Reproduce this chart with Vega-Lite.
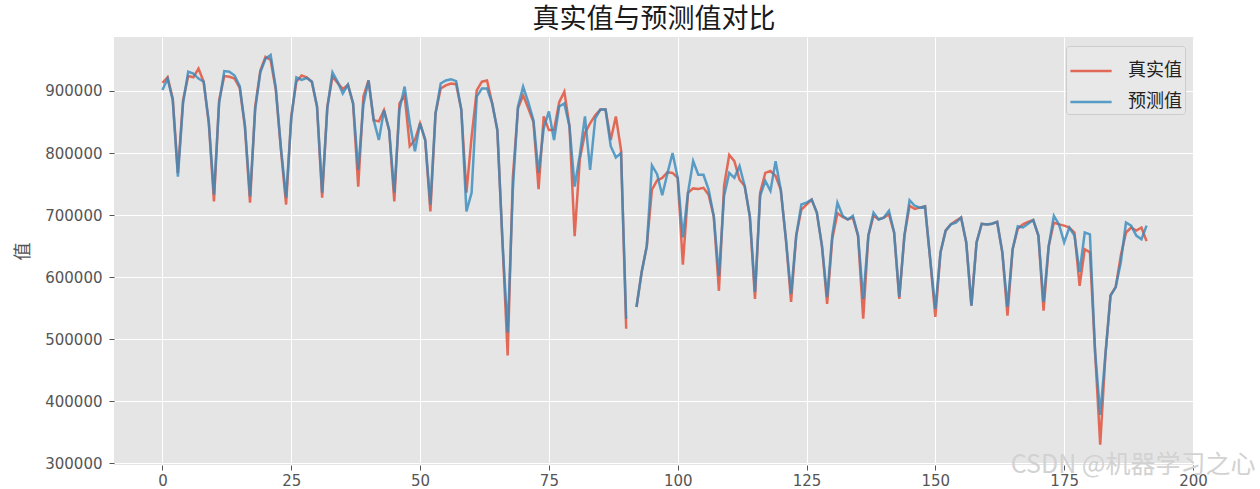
{
  "$schema": "https://vega.github.io/schema/vega-lite/v6.json",
  "width": 1080,
  "height": 428,
  "autosize": "none",
  "padding": {"left": 114, "top": 37, "right": 66, "bottom": 24},
  "background": "white",
  "title": {"text": "真实值与预测值对比", "font": "Noto Sans CJK SC", "fontSize": 27, "fontWeight": "normal", "color": "#1a1a1a", "offset": 3, "anchor": "middle"},
  "config": {
    "view": {"fill": "#E5E5E5", "stroke": null},
    "axis": {"grid": true, "gridColor": "#FFFFFF", "gridWidth": 1, "domain": false, "tickColor": "#555555", "tickSize": 5, "labelColor": "#555555", "labelFont": "DejaVu Sans", "labelFontSize": 15}
  },
  "data": {"values": [
    {"i":0,"r":913000,"p":901600},{"i":1,"r":922000,"p":920000},{"i":2,"r":888000,"p":885000},{"i":3,"r":768000,"p":762000},{"i":4,"r":885000,"p":880000},
    {"i":5,"r":924000,"p":931000},{"i":6,"r":922000,"p":928000},{"i":7,"r":936000,"p":920000},{"i":8,"r":915000,"p":915000},{"i":9,"r":848000,"p":850000},
    {"i":10,"r":722000,"p":733000},{"i":11,"r":885000,"p":880000},{"i":12,"r":924000,"p":932000},{"i":13,"r":923000,"p":931000},{"i":14,"r":920000,"p":925000},
    {"i":15,"r":905000,"p":908000},{"i":16,"r":843000,"p":845000},{"i":17,"r":720000,"p":730000},{"i":18,"r":875000,"p":870000},{"i":19,"r":933000,"p":930000},
    {"i":20,"r":955000,"p":952000},{"i":21,"r":950000,"p":958000},{"i":22,"r":902000,"p":905000},{"i":23,"r":805000,"p":808000},{"i":24,"r":717000,"p":728000},
    {"i":25,"r":859000,"p":855000},{"i":26,"r":915000,"p":922000},{"i":27,"r":925000,"p":918000},{"i":28,"r":922000,"p":921000},{"i":29,"r":915000,"p":915000},
    {"i":30,"r":875000,"p":875000},{"i":31,"r":728000,"p":736000},{"i":32,"r":875000,"p":872000},{"i":33,"r":923000,"p":930000},{"i":34,"r":913000,"p":915000},
    {"i":35,"r":903000,"p":896000},{"i":36,"r":910000,"p":910000},{"i":37,"r":880000,"p":880000},{"i":38,"r":746000,"p":773000},{"i":39,"r":891000,"p":878000},
    {"i":40,"r":917000,"p":917000},{"i":41,"r":853000,"p":853000},{"i":42,"r":851000,"p":821000},{"i":43,"r":869000,"p":869000},{"i":44,"r":837000,"p":837000},
    {"i":45,"r":722000,"p":736000},{"i":46,"r":880000,"p":870000},{"i":47,"r":893000,"p":907000},{"i":48,"r":811000,"p":848000},{"i":49,"r":821000,"p":803000},
    {"i":50,"r":848000,"p":848000},{"i":51,"r":821000,"p":821000},{"i":52,"r":706000,"p":717000},{"i":53,"r":864000,"p":864000},{"i":54,"r":904000,"p":912000},
    {"i":55,"r":909000,"p":917000},{"i":56,"r":912000,"p":919000},{"i":57,"r":911000,"p":916000},{"i":58,"r":870000,"p":870000},{"i":59,"r":736000,"p":706000},
    {"i":60,"r":826000,"p":736000},{"i":61,"r":901000,"p":891000},{"i":62,"r":915000,"p":904000},{"i":63,"r":917000,"p":904000},{"i":64,"r":880000,"p":880000},
    {"i":65,"r":837000,"p":837000},{"i":66,"r":656000,"p":656000},{"i":67,"r":474000,"p":511000},{"i":68,"r":760000,"p":740000},{"i":69,"r":872000,"p":875000},
    {"i":70,"r":893000,"p":907000},{"i":71,"r":872000,"p":882000},{"i":72,"r":850000,"p":853000},{"i":73,"r":742000,"p":768000},{"i":74,"r":859000,"p":840000},
    {"i":75,"r":837000,"p":867000},{"i":76,"r":837000,"p":821000},{"i":77,"r":882000,"p":875000},{"i":78,"r":899000,"p":880000},{"i":79,"r":843000,"p":843000},
    {"i":80,"r":666000,"p":746000},{"i":81,"r":790000,"p":797000},{"i":82,"r":832000,"p":859000},{"i":83,"r":848000,"p":773000},{"i":84,"r":861000,"p":856000},
    {"i":85,"r":870000,"p":870000},{"i":86,"r":870000,"p":870000},{"i":87,"r":821000,"p":811000},{"i":88,"r":859000,"p":793000},{"i":89,"r":805000,"p":800000},
    {"i":90,"r":517000,"p":533000},{"i":91,"r":null,"p":null},{"i":92,"r":552000,"p":552000},{"i":93,"r":608000,"p":608000},{"i":94,"r":650000,"p":650000},
    {"i":95,"r":741000,"p":780000},{"i":96,"r":756000,"p":766000},{"i":97,"r":760000,"p":732000},{"i":98,"r":769000,"p":767000},{"i":99,"r":768000,"p":800000},
    {"i":100,"r":760000,"p":760000},{"i":101,"r":620000,"p":664000},{"i":102,"r":736000,"p":736000},{"i":103,"r":743000,"p":787000},{"i":104,"r":742000,"p":765000},
    {"i":105,"r":744000,"p":765000},{"i":106,"r":733000,"p":741000},{"i":107,"r":698000,"p":698000},{"i":108,"r":578000,"p":602000},{"i":109,"r":747000,"p":731000},
    {"i":110,"r":797000,"p":768000},{"i":111,"r":787000,"p":760000},{"i":112,"r":757000,"p":779000},{"i":113,"r":747000,"p":747000},{"i":114,"r":698000,"p":698000},
    {"i":115,"r":565000,"p":576000},{"i":116,"r":736000,"p":731000},{"i":117,"r":768000,"p":755000},{"i":118,"r":771000,"p":739000},{"i":119,"r":763000,"p":787000},
    {"i":120,"r":741000,"p":741000},{"i":121,"r":661000,"p":661000},{"i":122,"r":560000,"p":573000},{"i":123,"r":667000,"p":667000},{"i":124,"r":709000,"p":717000},
    {"i":125,"r":717000,"p":720000},{"i":126,"r":725000,"p":725000},{"i":127,"r":704000,"p":704000},{"i":128,"r":650000,"p":650000},{"i":129,"r":557000,"p":568000},
    {"i":130,"r":662000,"p":668000},{"i":131,"r":703000,"p":720000},{"i":132,"r":697000,"p":699000},{"i":133,"r":693000,"p":693000},{"i":134,"r":696000,"p":699000},
    {"i":135,"r":667000,"p":667000},{"i":136,"r":533000,"p":565000},{"i":137,"r":667000,"p":667000},{"i":138,"r":699000,"p":704000},{"i":139,"r":693000,"p":693000},
    {"i":140,"r":696000,"p":696000},{"i":141,"r":701000,"p":707000},{"i":142,"r":672000,"p":672000},{"i":143,"r":565000,"p":568000},{"i":144,"r":667000,"p":667000},
    {"i":145,"r":715000,"p":724000},{"i":146,"r":710000,"p":715000},{"i":147,"r":712000,"p":712000},{"i":148,"r":714000,"p":714000},{"i":149,"r":629000,"p":629000},
    {"i":150,"r":536000,"p":549000},{"i":151,"r":640000,"p":640000},{"i":152,"r":675000,"p":675000},{"i":153,"r":685000,"p":685000},{"i":154,"r":691000,"p":688000},
    {"i":155,"r":696000,"p":696000},{"i":156,"r":656000,"p":656000},{"i":157,"r":554000,"p":554000},{"i":158,"r":656000,"p":656000},{"i":159,"r":686000,"p":686000},
    {"i":160,"r":685000,"p":685000},{"i":161,"r":686000,"p":686000},{"i":162,"r":689000,"p":689000},{"i":163,"r":640000,"p":640000},{"i":164,"r":538000,"p":552000},
    {"i":165,"r":645000,"p":645000},{"i":166,"r":678000,"p":682000},{"i":167,"r":685000,"p":680000},{"i":168,"r":689000,"p":686000},{"i":169,"r":692000,"p":692000},
    {"i":170,"r":667000,"p":667000},{"i":171,"r":546000,"p":560000},{"i":172,"r":650000,"p":650000},{"i":173,"r":688000,"p":699000},{"i":174,"r":685000,"p":685000},
    {"i":175,"r":683000,"p":656000},{"i":176,"r":680000,"p":680000},{"i":177,"r":672000,"p":667000},{"i":178,"r":586000,"p":608000},{"i":179,"r":645000,"p":672000},
    {"i":180,"r":640000,"p":669000},{"i":181,"r":480000,"p":480000},{"i":182,"r":330000,"p":378000},{"i":183,"r":474000,"p":474000},{"i":184,"r":571000,"p":570000},
    {"i":185,"r":584000,"p":584000},{"i":186,"r":635000,"p":624000},{"i":187,"r":672000,"p":688000},{"i":188,"r":680000,"p":683000},{"i":189,"r":675000,"p":667000},
    {"i":190,"r":680000,"p":661000},{"i":191,"r":658000,"p":683000}
  ]},
  "layer": [
    {
      "mark": {"type": "line", "strokeWidth": 2.5, "opacity": 0.8, "invalid": "break-paths-filter-domains"},
      "encoding": {
        "x": {"field": "i", "type": "quantitative",
              "scale": {"domain": [-9.4, 200.2], "nice": false, "zero": false},
              "axis": {"values": [0,25,50,75,100,125,150,175,200], "labelPadding": 3,
                       "title": "CSDN @机器学习之心", "titleFont": "Noto Sans CJK SC", "titleFontSize": 25, "titleFontWeight": "normal",
                       "titleColor": "#d2d2d2", "titleAnchor": "end", "titleAlign": "right", "titleBaseline": "middle", "titleX": 1141, "titleY": -1}},
        "y": {"field": "r", "type": "quantitative",
              "scale": {"domain": [297300, 987000], "nice": false, "zero": false},
              "axis": {"values": [300000,400000,500000,600000,700000,800000,900000], "format": "d", "labelPadding": 7,
                       "title": "值", "titleFont": "Noto Sans CJK SC", "titleFontSize": 18, "titleFontWeight": "normal", "titleColor": "#555555", "titlePadding": 12}},
        "color": {"datum": "真实值", "type": "nominal",
                  "scale": {"domain": ["真实值", "预测值"], "range": ["#E24A33", "#348ABD"]},
                  "legend": {"orient": "top-right", "offset": 9, "title": null, "fillColor": "#E8E8E8", "strokeColor": "#CCCCCC", "cornerRadius": 3, "padding": 3,
                             "symbolType": "stroke", "symbolSize": 1700, "symbolStrokeWidth": 2.5, "symbolOpacity": 0.75,
                             "labelFont": "Noto Sans CJK SC", "labelFontSize": 18, "labelColor": "#222222", "rowPadding": -8, "labelOffset": 15}}
      }
    },
    {
      "mark": {"type": "line", "strokeWidth": 2.5, "opacity": 0.8, "invalid": "break-paths-filter-domains"},
      "encoding": {
        "x": {"field": "i", "type": "quantitative"},
        "y": {"field": "p", "type": "quantitative"},
        "color": {"datum": "预测值", "type": "nominal"}
      }
    }
  ]
}
